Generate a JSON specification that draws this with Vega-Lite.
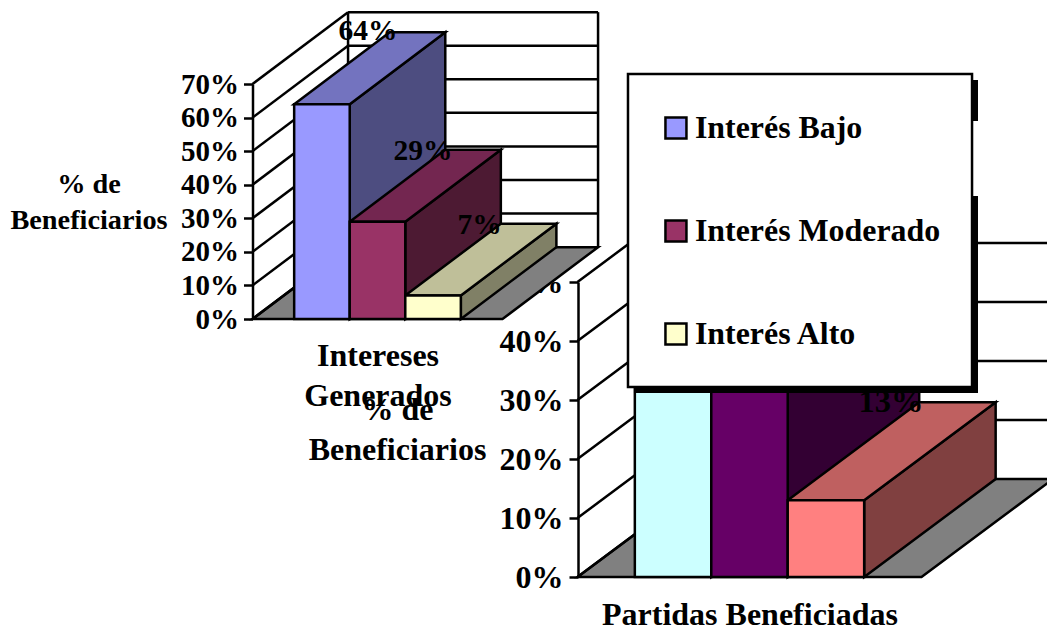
{
"$schema":"https://vega.github.io/schema/vega-lite/v6.json",
"width":1047,"height":627,"autosize":"none","padding":0,"background":"white",
"config":{"view":{"stroke":null},"text":{"font":"Liberation Serif","fontWeight":"bold","color":"black"},
"axis":{"labelFont":"Liberation Serif","labelFontWeight":"bold","labelColor":"black","titleFont":"Liberation Serif","titleFontWeight":"bold","titleColor":"black","grid":false,"domainColor":"black","domainWidth":2.5,"tickColor":"black","tickWidth":2.5,"tickSize":9,"labelOverlap":false,"labelFlush":false,"titleAngle":0,"titleAlign":"center","titleBaseline":"middle"}},
"datasets":{
"a_floor":[{"y":0,"x":0,"x2":4.5},{"y":21.4,"x":1.72,"x2":6.22}],
"a_grid":[
{"x":0,"y":0,"x2":1.72,"y2":21.4},{"x":0,"y":10,"x2":1.72,"y2":31.4},{"x":0,"y":20,"x2":1.72,"y2":41.4},{"x":0,"y":30,"x2":1.72,"y2":51.4},{"x":0,"y":40,"x2":1.72,"y2":61.4},{"x":0,"y":50,"x2":1.72,"y2":71.4},{"x":0,"y":60,"x2":1.72,"y2":81.4},{"x":0,"y":70,"x2":1.72,"y2":91.4},
{"x":1.72,"y":31.4,"x2":6.22,"y2":31.4},{"x":1.72,"y":41.4,"x2":6.22,"y2":41.4},{"x":1.72,"y":51.4,"x2":6.22,"y2":51.4},{"x":1.72,"y":61.4,"x2":6.22,"y2":61.4},{"x":1.72,"y":71.4,"x2":6.22,"y2":71.4},{"x":1.72,"y":81.4,"x2":6.22,"y2":81.4},{"x":1.72,"y":91.4,"x2":6.22,"y2":91.4},
{"x":1.72,"y":21.4,"x2":1.72,"y2":91.4},{"x":6.22,"y":21.4,"x2":6.22,"y2":91.4}],
"a_side":[
{"serie":"Interés Bajo","x":1.75,"y":64,"y2":0},{"serie":"Interés Bajo","x":3.47,"y":85.4,"y2":21.4},
{"serie":"Interés Moderado","x":2.75,"y":29,"y2":0},{"serie":"Interés Moderado","x":4.47,"y":50.4,"y2":21.4},
{"serie":"Interés Alto","x":3.75,"y":7,"y2":0},{"serie":"Interés Alto","x":5.47,"y":28.4,"y2":21.4}],
"a_top":[
{"serie":"Interés Bajo","y":64,"x":0.75,"x2":1.75},{"serie":"Interés Bajo","y":85.4,"x":2.47,"x2":3.47},
{"serie":"Interés Moderado","y":29,"x":1.75,"x2":2.75},{"serie":"Interés Moderado","y":50.4,"x":3.47,"x2":4.47},
{"serie":"Interés Alto","y":7,"x":2.75,"x2":3.75},{"serie":"Interés Alto","y":28.4,"x":4.47,"x2":5.47}],
"a_bars":[
{"serie":"Interés Bajo","x":0.75,"x2":1.75,"valor":64,"base":0,"tx":2.08,"ty":85.8,"etiqueta":"64%"},
{"serie":"Interés Moderado","x":1.75,"x2":2.75,"valor":29,"base":0,"tx":3.07,"ty":50,"etiqueta":"29%"},
{"serie":"Interés Alto","x":2.75,"x2":3.75,"valor":7,"base":0,"tx":4.09,"ty":28,"etiqueta":"7%"}],
"b_floor":[{"y":0,"x":0,"x2":4.5},{"y":16.6,"x":1.72,"x2":6.22}],
"b_grid":[
{"x":0,"y":0,"x2":1.72,"y2":16.6},{"x":0,"y":10,"x2":1.72,"y2":26.6},{"x":0,"y":20,"x2":1.72,"y2":36.6},{"x":0,"y":30,"x2":1.72,"y2":46.6},{"x":0,"y":40,"x2":1.72,"y2":56.6},{"x":0,"y":50,"x2":1.72,"y2":66.6},
{"x":1.72,"y":26.6,"x2":6.22,"y2":26.6},{"x":1.72,"y":36.6,"x2":6.22,"y2":36.6},{"x":1.72,"y":46.6,"x2":6.22,"y2":46.6},{"x":1.72,"y":56.6,"x2":6.22,"y2":56.6}],
"b_side":[
{"serie":"Interés Bajo","x":1.75,"y":45,"y2":0},{"serie":"Interés Bajo","x":3.47,"y":61.6,"y2":16.6},
{"serie":"Interés Moderado","x":2.75,"y":42,"y2":0},{"serie":"Interés Moderado","x":4.47,"y":58.6,"y2":16.6},
{"serie":"Interés Alto","x":3.75,"y":13,"y2":0},{"serie":"Interés Alto","x":5.47,"y":29.6,"y2":16.6}],
"b_top":[
{"serie":"Interés Bajo","y":45,"x":0.75,"x2":1.75},{"serie":"Interés Bajo","y":61.6,"x":2.47,"x2":3.47},
{"serie":"Interés Moderado","y":42,"x":1.75,"x2":2.75},{"serie":"Interés Moderado","y":58.6,"x":3.47,"x2":4.47},
{"serie":"Interés Alto","y":13,"x":2.75,"x2":3.75},{"serie":"Interés Alto","y":29.6,"x":4.47,"x2":5.47}],
"b_bars":[
{"serie":"Interés Bajo","x":0.75,"x2":1.75,"valor":45,"base":0,"tx":2.07,"ty":61.6,"etiqueta":"45%"},
{"serie":"Interés Moderado","x":1.75,"x2":2.75,"valor":42,"base":0,"tx":3.07,"ty":58.6,"etiqueta":"42%"},
{"serie":"Interés Alto","x":2.75,"x2":3.75,"valor":13,"base":0,"tx":4.1,"ty":29.7,"etiqueta":"13%"}],
"frame_shadow":[{"x":60.55,"x2":93.41,"y":61.72,"y2":62.68},{"x":92.84,"x2":93.41,"y":12.76,"y2":19.3},{"x":92.84,"x2":93.41,"y":31.26,"y2":62.68}],
"frame_box":[{"x":59.98,"x2":92.84,"y":11.8,"y2":61.72}]
},
"resolve":{"scale":{"x":"independent","y":"independent","color":"independent"},"axis":{"x":"independent","y":"independent"},"legend":{"color":"independent"}},
"layer":[
{"resolve":{"scale":{"color":"independent"},"axis":{"x":"independent","y":"independent"},"legend":{"color":"independent"}},"layer":[
{"data":{"name":"b_floor"},"mark":{"type":"area","orient":"horizontal","fill":"#808080","stroke":"black","strokeWidth":2.5},
"encoding":{"x":{"field":"x","type":"quantitative","stack":null,"scale":{"domain":[0,4.5],"range":[577.5,921.5]},
"axis":{"orient":"bottom","offset":-50,"values":[0],"labels":false,"ticks":false,"domain":false,"title":"Partidas Beneficiadas","titleFontSize":32,"titleX":749.5,"titleY":37}},"x2":{"field":"x2"},
"y":{"field":"y","type":"quantitative","stack":null,"scale":{"domain":[0,50],"range":[577,282]},
"axis":{"orient":"left","offset":-578,"values":[0,10,20,30,40,50],"labelExpr":"datum.value+'%'","labelFontSize":32,"labelPadding":6,"title":["% de","Beneficiarios"],"titleFontSize":32,"titleLineHeight":40,"titleX":-181,"titleY":409}}}},
{"data":{"name":"b_grid"},"mark":{"type":"rule","color":"black","strokeWidth":2.5},
"encoding":{"x":{"field":"x","type":"quantitative","axis":null},"x2":{"field":"x2"},"y":{"field":"y","type":"quantitative","axis":null},"y2":{"field":"y2"}}},
{"data":{"name":"b_side"},"mark":{"type":"area","stroke":"black","strokeWidth":2.5},
"encoding":{"x":{"field":"x","type":"quantitative","axis":null},"y":{"field":"y","type":"quantitative","stack":null,"axis":null},"y2":{"field":"y2"},
"color":{"field":"serie","type":"nominal","legend":null,"scale":{"domain":["Interés Bajo","Interés Moderado","Interés Alto"],"range":["#668080","#330033","#804040"]}}}},
{"data":{"name":"b_top"},"mark":{"type":"area","orient":"horizontal","stroke":"black","strokeWidth":2.5},
"encoding":{"x":{"field":"x","type":"quantitative","stack":null,"axis":null},"x2":{"field":"x2"},"y":{"field":"y","type":"quantitative","axis":null},
"color":{"field":"serie","type":"nominal","legend":null,"scale":{"domain":["Interés Bajo","Interés Moderado","Interés Alto"],"range":["#99BFBF","#4D004D","#BF6060"]}}}},
{"data":{"name":"b_bars"},"mark":{"type":"rect","stroke":"black","strokeWidth":2.5},
"encoding":{"x":{"field":"x","type":"quantitative","axis":null},"x2":{"field":"x2"},"y":{"field":"valor","type":"quantitative","axis":null},"y2":{"field":"base"},
"color":{"field":"serie","type":"nominal","legend":null,"scale":{"domain":["Interés Bajo","Interés Moderado","Interés Alto"],"range":["#CCFFFF","#660066","#FF8080"]}}}},
{"data":{"name":"b_bars"},"mark":{"type":"text","fontSize":32.5,"baseline":"middle"},
"encoding":{"x":{"field":"tx","type":"quantitative","axis":null},"y":{"field":"ty","type":"quantitative","axis":null},"text":{"field":"etiqueta"}}}
]},
{"resolve":{"scale":{"color":"independent"},"axis":{"x":"independent","y":"independent"},"legend":{"color":"independent"}},"layer":[
{"data":{"name":"a_floor"},"mark":{"type":"area","orient":"horizontal","fill":"#808080","stroke":"black","strokeWidth":2.5},
"encoding":{"x":{"field":"x","type":"quantitative","stack":null,"scale":{"domain":[0,4.5],"range":[252.5,502.5]},
"axis":{"orient":"bottom","offset":-308,"values":[0],"labels":false,"ticks":false,"domain":false,"title":["Intereses","Generados"],"titleFontSize":32,"titleLineHeight":40,"titleX":377.5,"titleY":36}},"x2":{"field":"x2"},
"y":{"field":"y","type":"quantitative","stack":null,"scale":{"domain":[0,70],"range":[319,84]},
"axis":{"orient":"left","offset":-252.5,"values":[0,10,20,30,40,50,60,70],"labelExpr":"datum.value+'%'","labelFontSize":29,"labelPadding":5,"title":["% de","Beneficiarios"],"titleFontSize":28.3,"titleLineHeight":36,"titleX":-164,"titleY":184}}}},
{"data":{"name":"a_grid"},"mark":{"type":"rule","color":"black","strokeWidth":2.5},
"encoding":{"x":{"field":"x","type":"quantitative","axis":null},"x2":{"field":"x2"},"y":{"field":"y","type":"quantitative","axis":null},"y2":{"field":"y2"}}},
{"data":{"name":"a_side"},"mark":{"type":"area","stroke":"black","strokeWidth":2.5},
"encoding":{"x":{"field":"x","type":"quantitative","axis":null},"y":{"field":"y","type":"quantitative","stack":null,"axis":null},"y2":{"field":"y2"},
"color":{"field":"serie","type":"nominal","legend":null,"scale":{"domain":["Interés Bajo","Interés Moderado","Interés Alto"],"range":["#4D4D80","#4D1A33","#808066"]}}}},
{"data":{"name":"a_top"},"mark":{"type":"area","orient":"horizontal","stroke":"black","strokeWidth":2.5},
"encoding":{"x":{"field":"x","type":"quantitative","stack":null,"axis":null},"x2":{"field":"x2"},"y":{"field":"y","type":"quantitative","axis":null},
"color":{"field":"serie","type":"nominal","legend":null,"scale":{"domain":["Interés Bajo","Interés Moderado","Interés Alto"],"range":["#7373BF","#732650","#BFBF99"]}}}},
{"data":{"name":"a_bars"},"mark":{"type":"rect","stroke":"black","strokeWidth":2.5},
"encoding":{"x":{"field":"x","type":"quantitative","axis":null},"x2":{"field":"x2"},"y":{"field":"valor","type":"quantitative","axis":null},"y2":{"field":"base"},
"color":{"field":"serie","type":"nominal","scale":{"domain":["Interés Bajo","Interés Moderado","Interés Alto"],"range":["#9999FF","#993366","#FFFFCC"]},
"legend":{"orient":"none","legendX":660,"legendY":112,"title":null,"padding":0,"symbolType":"square","symbolSize":441,"symbolStrokeColor":"black","symbolStrokeWidth":2.5,"symbolOpacity":1,"labelFont":"Liberation Serif","labelFontWeight":"bold","labelFontSize":31.9,"labelColor":"black","labelOffset":3,"labelLimit":400,"rowPadding":70}}}},
{"data":{"name":"a_bars"},"mark":{"type":"text","fontSize":29.5,"baseline":"middle"},
"encoding":{"x":{"field":"tx","type":"quantitative","axis":null},"y":{"field":"ty","type":"quantitative","axis":null},"text":{"field":"etiqueta"}}}
]},
{"layer":[
{"data":{"name":"frame_shadow"},"mark":{"type":"rect","fill":"black"},
"encoding":{"x":{"field":"x","type":"quantitative","axis":null,"scale":{"domain":[0,100],"range":[0,1047]}},"x2":{"field":"x2"},"y":{"field":"y","type":"quantitative","axis":null,"scale":{"domain":[0,100],"range":[0,627]}},"y2":{"field":"y2"}}},
{"data":{"name":"frame_box"},"mark":{"type":"rect","fill":"white","stroke":"black","strokeWidth":2.5},
"encoding":{"x":{"field":"x","type":"quantitative","axis":null},"x2":{"field":"x2"},"y":{"field":"y","type":"quantitative","axis":null},"y2":{"field":"y2"}}}
]}
]
}
